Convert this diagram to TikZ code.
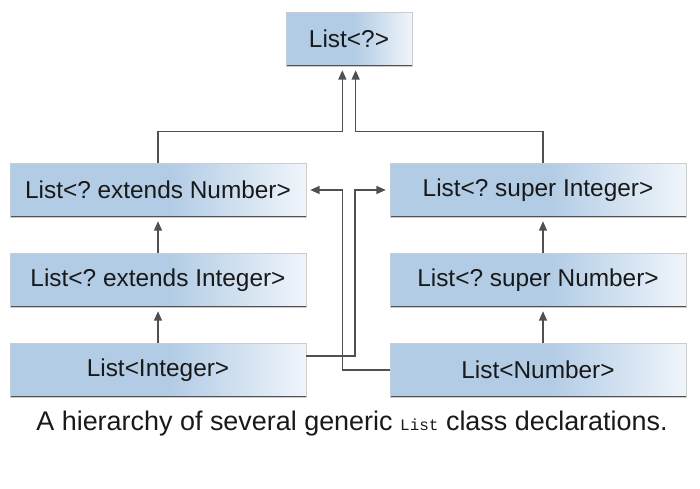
\documentclass[tikz,border=0pt]{standalone}
\usepackage{fontspec}
\setmainfont{Liberation Sans}
\setmonofont{Liberation Mono}
\usetikzlibrary{arrows.meta}
\definecolor{boxblue}{RGB}{178,204,229}
\definecolor{boxwhite}{RGB}{240,245,251}
\definecolor{edgegray}{RGB}{80,80,80}
\pgfdeclarehorizontalshading{boxshade}{100bp}{color(0bp)=(boxblue); color(25bp)=(boxblue); color(52bp)=(boxblue); color(75bp)=(boxwhite); color(100bp)=(boxwhite)}
\frenchspacing

\begin{document}
\begin{tikzpicture}[x=0.75pt,y=-0.75pt]
    \tikzstyle{lbox}=[rectangle, shading=boxshade, draw=black!20, minimum width=222pt, minimum height=40.5pt, inner sep=0pt, text=black!90, font=\fontsize{18.3}{20}\selectfont,
      path picture={\draw[edgegray, line width=1.6pt] (path picture bounding box.north west) -- (path picture bounding box.south west) -- (path picture bounding box.south east);}]
    \tikzstyle{conn}=[draw=edgegray, line width=1pt, -{Triangle[length=7pt,width=6pt]}, shorten >=3pt]
    \useasboundingbox (0,0) rectangle (700,489);
    \node[lbox, minimum width=94.5pt] (top) at (349,39) {List<?>};
    \node[lbox] (en) at (158,190) {List<? extends Number>};
    \node[lbox] (ei) at (158,280) {List<? extends Integer>};
    \node[lbox] (li) at (158,370) {List<Integer>};
    \node[lbox] (si) at (538,190) {List<? super Integer>};
    \node[lbox] (sn) at (538,280) {List<? super Number>};
    \node[lbox] (ln) at (538,370) {List<Number>};
    \node[text=black!90, font=\fontsize{20.2}{22}\selectfont] (cap) at (352,424)
      {A hierarchy of several generic {\ttfamily\fontsize{12}{12}\selectfont List} class declarations.};
    \draw[conn] (ei) -- (en);
    \draw[conn] (li) -- (ei);
    \draw[conn] ([xshift=3.75pt]sn.north) -- ([xshift=3.75pt]si.south);
    \draw[conn] ([xshift=3.75pt]ln.north) -- ([xshift=3.75pt]sn.south);
    \draw[conn] (en.north) -- ++(0,-31) -| ([xshift=-5pt]top.south);
    \draw[conn] ([xshift=3.75pt]si.north) -- ++(0,-31) -| ([xshift=5pt]top.south);
    \draw[conn] ([yshift=10.5pt]li.east) -| ([xshift=-26pt]si.west) -- (si.west);
    \draw[conn] (ln.west) -| ([xshift=27pt]en.east) -- (en.east);
\end{tikzpicture}
\end{document}
